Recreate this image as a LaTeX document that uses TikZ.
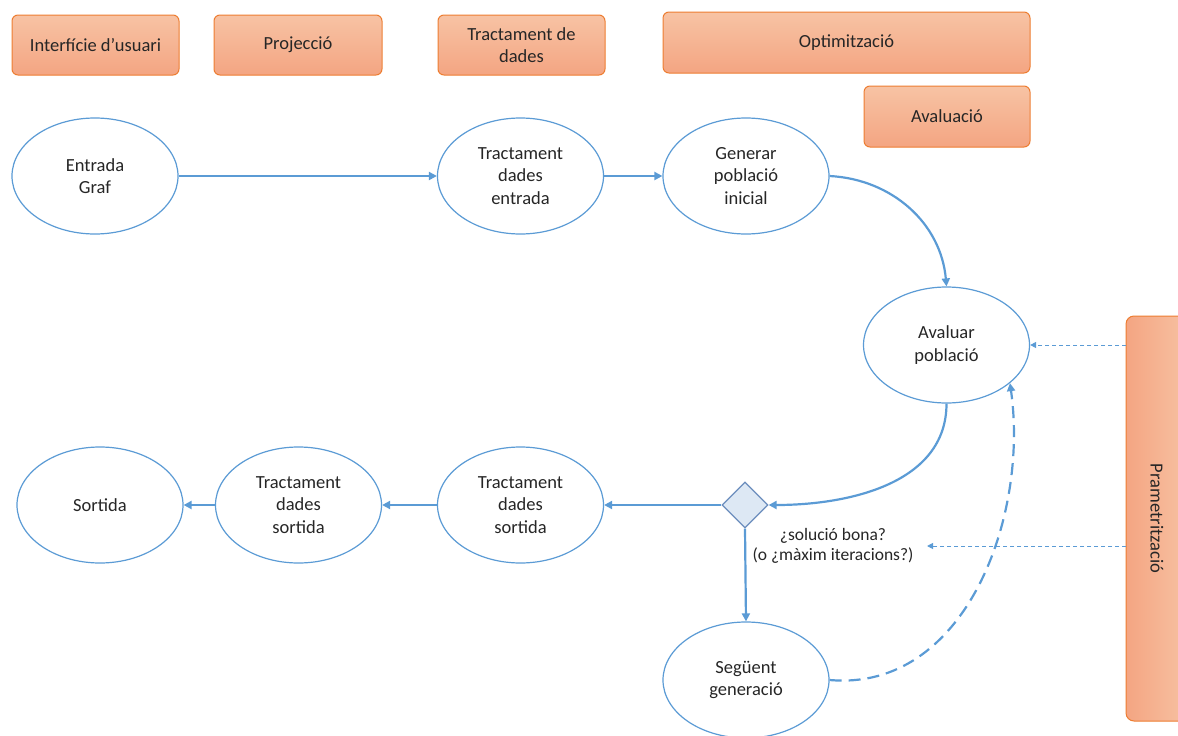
\documentclass[tikz,border=0pt]{standalone}
\usepackage{fontspec}
\setmainfont{Carlito}
\usetikzlibrary{shapes.geometric,arrows.meta}
\definecolor{eblue}{HTML}{5B9BD5}
\definecolor{oline}{HTML}{ED7D31}
\definecolor{otop}{HTML}{F7C3A4}
\definecolor{obot}{HTML}{F4A582}
\definecolor{dfill}{HTML}{DDE8F4}
\definecolor{dline}{HTML}{6B8DBD}
\definecolor{txt}{HTML}{262626}
\begin{document}
\begin{tikzpicture}[x=1pt,y=-1pt,
  every node/.style={text=txt,font=\fontsize{18.5}{22.5}\selectfont},
  obox/.style={rectangle,rounded corners=6pt,draw=oline,line width=1pt,top color=otop,bottom color=obot,align=center,inner sep=0pt},
  ell/.style={ellipse,draw=eblue,line width=1.2pt,fill=white,minimum width=166pt,minimum height=116pt,inner sep=0pt,align=center},
  dec/.style={diamond,draw=dline,line width=1.2pt,fill=dfill,minimum width=46pt,minimum height=46pt,inner sep=0pt},
  flow/.style={draw=eblue,line width=2.2pt,-{Triangle[length=8pt,width=8pt]}},
  dflow/.style={draw=eblue,line width=2.2pt,dash pattern=on 12pt off 7pt,-{Triangle[length=8pt,width=8pt]}},
  pflow/.style={draw=eblue,line width=1pt,dash pattern=on 4pt off 3pt,-{Triangle[length=6pt,width=6pt]}}]
\useasboundingbox (0,0) rectangle (1178,736);
% top boxes
\node[obox,minimum width=167pt,minimum height=60pt] (ui) at (95.5,45) {Interfície d’usuari};
\node[obox,minimum width=168pt,minimum height=60pt] (proj) at (298,45) {Projecció};
\node[obox,minimum width=167pt,minimum height=60pt] (trd) at (521.5,45) {Tractament de\\dades};
\node[obox,minimum width=367pt,minimum height=61pt] (opt) at (846.5,42.5) {Optimització};
\node[obox,minimum width=166pt,minimum height=61pt] (aval) at (947,116.5) {Avaluació};
\shade[left color=obot,right color=otop,draw=oline,line width=1pt,rounded corners=8pt] (1126,316) rectangle (1192,721);
\node[rotate=-90] (param) at (1157,518.5) {Prametrització};
\coordinate (paramw) at (1126,518.5);
% ellipses
\node[ell] (in) at (95,176) {Entrada\\Graf};
\node[ell] (tde) at (520.5,176) {Tractament\\dades\\entrada};
\node[ell] (gen) at (746,176) {Generar\\població\\inicial};
\node[ell] (ava) at (946.5,345) {Avaluar\\població};
\node[ell] (out) at (100,505) {Sortida};
\node[ell] (tds1) at (298.5,505) {Tractament\\dades\\sortida};
\node[ell] (tds2) at (520.5,505) {Tractament\\dades\\sortida};
\node[ell] (seg) at (746,680) {Següent\\generació};
\node[dec] (dia) at (745,505) {};
\node[font=\fontsize{17.5}{20}\selectfont,align=center] (lbl) at (833,546) {¿solució bona?\\(o ¿màxim iteracions?)};
% connectors
\draw[flow] (in.east) -- (tde.west);
\draw[flow] (tde.east) -- (gen.west);
\draw[flow] (gen.east) to[out=-3,in=95] (ava.north);
\draw[flow] (ava.south) to[out=-90,in=0] (dia.east);
\draw[flow] (dia.west) -- (tds2.east);
\draw[flow] (tds2.west) -- (tds1.east);
\draw[flow] (tds1.west) -- (out.east);
\draw[flow] (dia.south) -- (seg.north);
\draw[dflow] (seg.east) to[out=-5,in=-82] (ava.-31);
\draw[pflow] (paramw |- ava.east) -- (ava.east);
\draw[pflow] (paramw |- 0,546) -- ([xshift=10pt]lbl.east |- 0,546);
\end{tikzpicture}
\end{document}
